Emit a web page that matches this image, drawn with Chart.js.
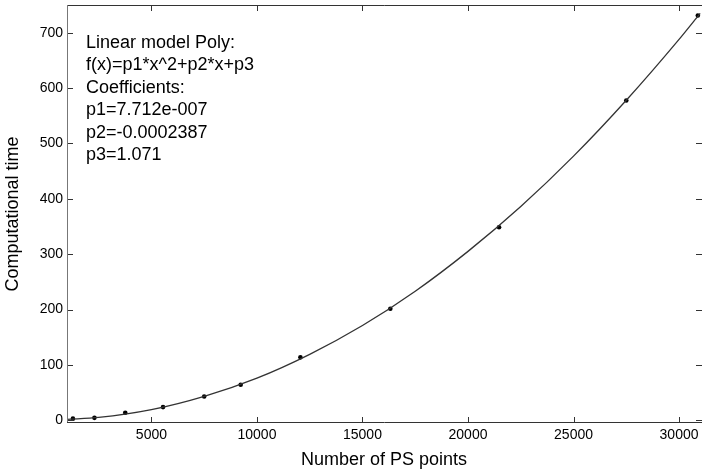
<!DOCTYPE html>
<html>

<head>
    <title>Computational time fit</title>
    <script src="https://cdn.jsdelivr.net/npm/chart.js"></script>
    <style>
        html, body {
            margin: 0;
            padding: 0;
            background: #fff;
        }

        #chart-wrap {
            width: 705px;
            height: 473px;
        }
    </style>
</head>

<body>
    <div id="chart-wrap">
        <canvas id="chart-fit"></canvas>
    </div>

    <script>
        // Measured points (number of PS points, computational time)
        var psPoints = [1280, 2300, 3760, 5550, 7500, 9230, 12060, 16320, 21470, 27500, 30890];
        var compTime = [2.9, 4.3, 13.4, 23.7, 43, 64, 113.6, 201.4, 348.6, 577.6, 731];

        // Fitted curve
        var curveX = [1000, 2500, 5000, 7500, 10000, 12500, 15000, 17500, 20000, 22500, 25000, 27500, 30000, 31000];
        var curveY = [1.6, 5, 19, 43, 76, 119, 171, 233, 305, 386, 477, 578, 688, 735];

        var xTicks = [5000, 10000, 15000, 20000, 25000, 30000];
        var yTicks = [0, 100, 200, 300, 400, 500, 600, 700];

        var fitText = [
            'Linear model Poly:',
            'f(x)=p1*x^2+p2*x+p3',
            'Coefficients:',
            'p1=7.712e-007',
            'p2=-0.0002387',
            'p3=1.071'
        ];

        var fontFamily = '"Liberation Sans", Arial, sans-serif';

        // Draw MATLAB-like inward ticks plus the axes box and the text box
        var matlabBox = {
            id: 'matlabBox',
            afterDatasetsDraw: function(chart) {
                var ctx = chart.ctx;
                var a = chart.chartArea;
                var xs = chart.scales.x;
                var ys = chart.scales.y;
                ctx.save();
                ctx.strokeStyle = '#333';
                ctx.lineWidth = 1;
                ctx.beginPath();
                xTicks.forEach(function(v) {
                    var px = Math.round(xs.getPixelForValue(v)) + 0.5;
                    ctx.moveTo(px, a.bottom);
                    ctx.lineTo(px, a.bottom - 6);
                    ctx.moveTo(px, a.top);
                    ctx.lineTo(px, a.top + 6);
                });
                yTicks.forEach(function(v) {
                    var py = Math.round(ys.getPixelForValue(v)) + 0.5;
                    ctx.moveTo(a.left, py);
                    ctx.lineTo(a.left + 6, py);
                    ctx.moveTo(a.right + 1, py);
                    ctx.lineTo(a.right - 5, py);
                });
                ctx.stroke();

                // top, left and bottom edges (right edge falls just outside the picture)
                ctx.beginPath();
                ctx.moveTo(a.right + 1, a.top + 0.5);
                ctx.lineTo(a.left + 0.5, a.top + 0.5);
                ctx.stroke();
                ctx.beginPath();
                ctx.moveTo(a.left + 0.5, a.top);
                ctx.lineTo(a.left + 0.5, a.bottom);
                ctx.strokeStyle = '#777';
                ctx.stroke();
                ctx.beginPath();
                ctx.moveTo(a.left, a.bottom - 0.5);
                ctx.lineTo(a.right + 1, a.bottom - 0.5);
                ctx.strokeStyle = '#333';
                ctx.stroke();

                ctx.fillStyle = '#000';
                ctx.font = '18px ' + fontFamily;
                ctx.textBaseline = 'middle';
                ctx.textAlign = 'left';
                fitText.forEach(function(line, i) {
                    ctx.fillText(line, 86, 43 + i * 22.4);
                });
                ctx.restore();
            }
        };

        var ctxFit = document.getElementById('chart-fit').getContext('2d');
        var chartFit = new Chart(ctxFit, {
            type: 'scatter',
            data: {
                datasets: [{
                    label: 'fit',
                    data: curveX.map(function(x, i) { return { x: x, y: curveY[i] }; }),
                    showLine: true,
                    borderColor: '#333',
                    borderWidth: 1.3,
                    pointRadius: 0,
                    cubicInterpolationMode: 'monotone',
                    fill: false
                }, {
                    label: 'data',
                    data: psPoints.map(function(x, i) { return { x: x, y: compTime[i] }; }),
                    backgroundColor: '#000',
                    borderColor: '#000',
                    pointRadius: 2.3,
                    pointBorderWidth: 0
                }]
            },
            options: {
                responsive: true,
                maintainAspectRatio: false,
                animation: false,
                layout: {
                    padding: { top: 5, right: 0, left: 0, bottom: 0 }
                },
                plugins: {
                    legend: { display: false },
                    tooltip: { enabled: false }
                },
                scales: {
                    x: {
                        type: 'linear',
                        min: 1000,
                        max: 31040,
                        afterBuildTicks: function(scale) {
                            scale.ticks = xTicks.map(function(v) { return { value: v }; });
                        },
                        afterFit: function(scale) {
                            scale.height = 50;
                            scale.paddingLeft = 0;
                            scale.paddingRight = 0;
                        },
                        grid: { display: false, drawTicks: false },
                        border: { display: false },
                        ticks: {
                            color: '#000',
                            padding: 4,
                            maxRotation: 0,
                            font: { family: fontFamily, size: 14 },
                            callback: function(v) { return String(v); }
                        },
                        title: {
                            display: true,
                            text: 'Number of PS points',
                            color: '#000',
                            font: { family: fontFamily, size: 18 },
                            padding: { top: 0, bottom: 2 }
                        }
                    },
                    y: {
                        type: 'linear',
                        min: -5,
                        max: 750,
                        afterBuildTicks: function(scale) {
                            scale.ticks = yTicks.map(function(v) { return { value: v }; });
                        },
                        afterFit: function(scale) {
                            scale.width = 67;
                            scale.paddingTop = 0;
                            scale.paddingBottom = 0;
                        },
                        grid: { display: false, drawTicks: false },
                        border: { display: false },
                        ticks: {
                            color: '#000',
                            padding: 4,
                            font: { family: fontFamily, size: 14 },
                            callback: function(v) { return String(v); }
                        },
                        title: {
                            display: true,
                            text: 'Computational time',
                            color: '#000',
                            font: { family: fontFamily, size: 18 },
                            padding: { top: 2, bottom: 2 }
                        }
                    }
                }
            },
            plugins: [matlabBox]
        });
    </script>
</body>

</html>
